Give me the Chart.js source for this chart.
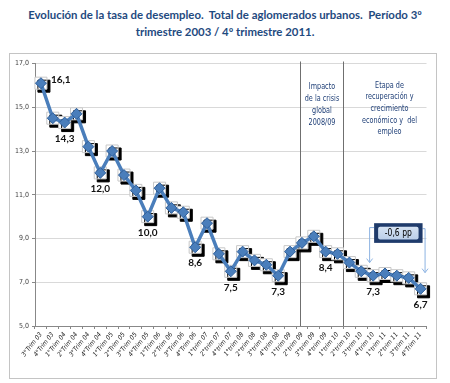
<!DOCTYPE html>
<html>
<head>
<meta charset="utf-8">
<script src="https://cdn.jsdelivr.net/npm/chart.js@4"></script>
<style>
    body { margin: 0; width: 450px; height: 383px; background: #fff; overflow: hidden; }
    #title { position: absolute; left: 0; top: 6px; width: 450px; text-align: center; font: bold 11.4px Lato, sans-serif; color: #1f4a80; line-height: 17px; }
    #frame { position: absolute; left: 9px; top: 53px; width: 426px; height: 324px; border: 1px solid #c4c4c4; }
</style>
</head>
<body>
<div id="title">Evolución de la tasa de desempleo.&nbsp; Total de aglomerados urbanos.&nbsp; Período 3º<br>trimestre 2003 / 4º trimestre 2011.</div>
<div id="frame"><canvas id="chart"></canvas></div>
<script>
// Data
var trimestres = [
    '3°Trim 03', '4°Trim 03', '1°Trim 04', '2°Trim 04', '3°Trim 04', '4°Trim 04',
    '1°Trim 05', '2°Trim 05', '3°Trim 05', '4°Trim 05', '1°Trim 06', '2°Trim 06',
    '3°Trim 06', '4°Trim 06', '1°trim 07', '2°trim 07', '4°trim 07', '1°trim 08',
    '2°trim 08', '3°trim 08', '4°trim 08', '1°trim 09', '2°trim 09', '3°trim 09',
    '4°trim 09', '1°trim 10', '2°trim 10', '3°trim 10', '4°trim 10', '1°trim 11',
    '2°trim 11', '3°trim 11', '4°Trim 11'
];
var tasa = [
    16.1, 14.5, 14.3, 14.7, 13.2, 12.0, 13.0, 11.9, 11.2, 10.0, 11.3, 10.4,
    10.2, 8.6, 9.7, 8.3, 7.5, 8.4, 8.0, 7.8, 7.3, 8.4, 8.8, 9.1,
    8.4, 8.3, 7.9, 7.5, 7.3, 7.4, 7.3, 7.2, 6.7
];
// Points that carry a value label
var etiquetados = [0, 2, 5, 9, 13, 16, 20, 24, 28, 32];
var yMin = 5, yMax = 17, yStep = 2;
var notaCrisis = ['Impacto', 'de la crisis', 'global', '2008/09'];
var notaRecuperacion = ['Etapa de', 'recuperación y', 'crecimiento', 'económico y  del', 'empleo'];
var variacion = '-0,6 pp';

var narrow = '"Liberation Sans Narrow", "DejaVu Sans Condensed", sans-serif';

function fmt(v) {
    return v.toFixed(1).replace('.', ',');
}

/**
 * Shadow behind the white boxes
 */
var boxShadow = {
    id: 'boxShadow',
    beforeDatasetDraw: function (chart, args) {
        if (args.index !== 1) return;
        var ctx = chart.ctx;
        ctx.save();
        ctx.shadowColor = '#000';
        ctx.shadowOffsetX = 3;
        ctx.shadowOffsetY = 3;
        ctx.shadowBlur = 0;
    },
    afterDatasetDraw: function (chart, args) {
        if (args.index !== 1) return;
        chart.ctx.restore();
    }
};

/**
 * Period separators and notes
 */
var periodos = {
    id: 'periodos',
    beforeDatasetsDraw: function (chart) {
        var ctx = chart.ctx, xs = chart.scales.x, area = chart.chartArea;
        var x1 = Math.round(xs.getPixelForValue(21.8)) + 0.5;
        var x2 = Math.round(xs.getPixelForValue(25.5)) + 0.5;
        ctx.save();
        ctx.strokeStyle = '#6f6f6f';
        ctx.lineWidth = 1;
        [x1, x2].forEach(function (x) {
            ctx.beginPath();
            ctx.moveTo(x, area.top - 2);
            ctx.lineTo(x, area.bottom);
            ctx.stroke();
        });
        ctx.fillStyle = '#1f3f77';
        ctx.font = '9px ' + narrow;
        ctx.textAlign = 'center';
        ctx.textBaseline = 'middle';
        // squeeze the text, the original uses a very narrow face
        notaCrisis.forEach(function (t, i) {
            ctx.fillText(t, (x1 + x2) / 2, area.top + 23 + i * 12, ctx.measureText(t).width * 0.8);
        });
        notaRecuperacion.forEach(function (t, i) {
            ctx.fillText(t, x2 + 46, area.top + 22 + i * 11.6, ctx.measureText(t).width * 0.8);
        });
        ctx.restore();
    }
};

/**
 * Value labels and the -0,6 pp callout
 */
var etiquetas = {
    id: 'etiquetas',
    afterDatasetsDraw: function (chart) {
        var ctx = chart.ctx, xs = chart.scales.x, ys = chart.scales.y;
        var meta = chart.getDatasetMeta(0);
        ctx.save();
        ctx.fillStyle = '#111';
        ctx.font = 'bold 10px Lato, sans-serif';
        ctx.textBaseline = 'middle';
        etiquetados.forEach(function (i) {
            var p = meta.data[i];
            if (i === 0) {
                ctx.textAlign = 'left';
                ctx.fillText(fmt(tasa[i]), p.x + 10, p.y - 3);
            } else {
                ctx.textAlign = 'center';
                ctx.fillText(fmt(tasa[i]), p.x, p.y + 16);
            }
        });

        // Callout box
        var xa = xs.getPixelForValue(28), xb = xs.getPixelForValue(32);
        var bx = xa + 1, bw = xb - xa + 1;
        var by = ys.getPixelForValue(9.7), bh = ys.getPixelForValue(8.8) - by;

        // Arrows
        ctx.strokeStyle = '#8db3e2';
        ctx.lineWidth = 1;
        function arrow(x0, y0, x, y1) {
            ctx.beginPath();
            ctx.moveTo(x0, y0);
            ctx.lineTo(x, y0);
            ctx.lineTo(x, y1);
            ctx.moveTo(x - 3, y1 - 4);
            ctx.lineTo(x, y1);
            ctx.lineTo(x + 3, y1 - 4);
            ctx.stroke();
        }
        arrow(bx, ys.getPixelForValue(9.5), xa - 3.5, ys.getPixelForValue(7.9));
        arrow(bx + bw, ys.getPixelForValue(9.45), xb + 4.5, ys.getPixelForValue(7.44));

        ctx.fillStyle = '#1f3b6b';
        ctx.fillRect(bx, by, bw, bh);
        var g = ctx.createLinearGradient(0, by, 0, by + bh);
        g.addColorStop(0, '#dde8f5');
        g.addColorStop(1, '#b4cae6');
        ctx.fillStyle = g;
        ctx.beginPath();
        ctx.roundRect(bx + 4, by + 3.5, bw - 8, bh - 7, 2);
        ctx.fill();
        ctx.fillStyle = '#000';
        ctx.font = '10px ' + narrow;
        ctx.textAlign = 'center';
        ctx.fillText(variacion, bx + bw / 2, by + bh / 2 + 0.5, ctx.measureText(variacion).width * 0.85);
        ctx.restore();
    }
};

new Chart(document.getElementById('chart').getContext('2d'), {
    type: 'line',
    data: {
        labels: trimestres,
        datasets: [{
            data: tasa,
            order: 1,
            borderColor: '#4a7ebb',
            borderWidth: 3.5,
            tension: 0,
            pointStyle: 'rectRot',
            pointRadius: 5.5,
            pointBackgroundColor: '#4a7ebb',
            pointBorderColor: '#2f5f9a',
            pointBorderWidth: 1
        }, {
            data: tasa,
            order: 2,
            showLine: false,
            clip: false,
            pointStyle: 'rect',
            pointRadius: 8.5,
            pointBackgroundColor: '#fff',
            pointBorderColor: '#c8c8c8',
            pointBorderWidth: 1
        }]
    },
    options: {
        responsive: true,
        maintainAspectRatio: false,
        animation: false,
        layout: { padding: { top: 6, right: 5, left: 0, bottom: 0 } },
        plugins: {
            legend: { display: false },
            tooltip: { enabled: false }
        },
        scales: {
            x: {
                offset: true,
                afterFit: function (scale) { scale.height = 52; },
                grid: {
                    display: true,
                    offset: true,
                    drawOnChartArea: false,
                    drawTicks: true,
                    tickLength: 3,
                    color: '#888'
                },
                border: { display: true, color: '#888' },
                ticks: {
                    autoSkip: false,
                    minRotation: 52,
                    maxRotation: 52,
                    padding: 2,
                    color: '#222',
                    font: { family: narrow, size: 6.5, style: 'italic' }
                }
            },
            y: {
                min: yMin,
                max: yMax,
                afterFit: function (scale) { scale.width = 25; },
                grid: {
                    color: '#d9d9d9',
                    tickColor: '#888',
                    tickLength: 3
                },
                border: { display: true, color: '#888' },
                ticks: {
                    stepSize: yStep,
                    padding: 3,
                    color: '#444',
                    font: { family: narrow, size: 7 },
                    callback: function (v) { return fmt(v); }
                }
            }
        }
    },
    plugins: [boxShadow, periodos, etiquetas]
});
</script>
</body>
</html>
